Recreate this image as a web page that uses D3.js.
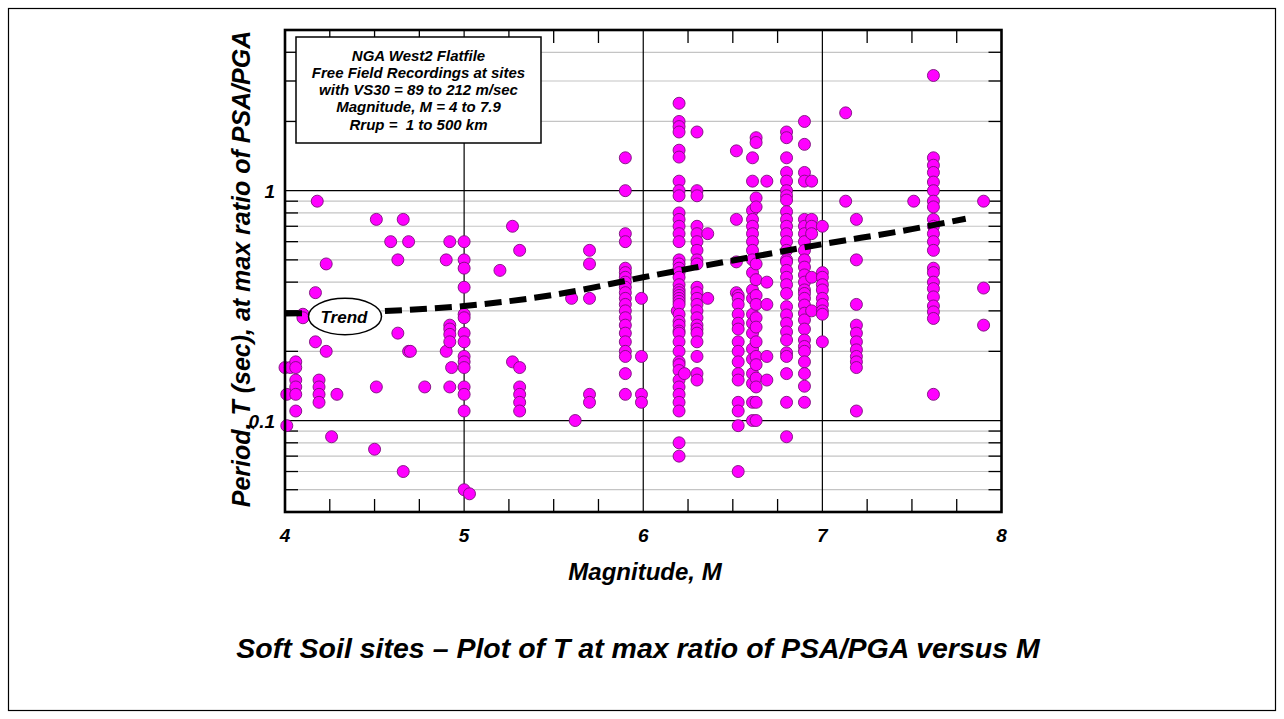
<!DOCTYPE html>
<html>
<head>
<meta charset="utf-8">
<script src="https://cdn.jsdelivr.net/npm/d3@7"></script>
<style>
  html, body { margin: 0; padding: 0; background: #fff; }
  svg { display: block; }
  text { font-family: "Liberation Sans", Arial, Helvetica, sans-serif; font-weight: bold; font-style: italic; fill: #000; white-space: pre; }
</style>
</head>
<body>
<svg id="chart" width="1284" height="719"></svg>
<script>
// Recordings grouped in vertical stacks: one magnitude, many periods (sec)
const stackMag = [
  4.00, 4.01, 4.03, 4.06, 4.10, 4.17, 4.18, 4.19, 4.23, 4.26, 4.29,
  4.50, 4.51, 4.59, 4.63, 4.66, 4.69, 4.70, 4.78, 4.90, 4.92, 4.93,
  5.00, 5.03, 5.20, 5.27, 5.31, 5.60, 5.62, 5.70, 5.90, 5.99,
  6.19, 6.20, 6.23, 6.30, 6.36, 6.52, 6.53, 6.61, 6.63, 6.69,
  6.80, 6.90, 6.94, 7.00, 7.13, 7.19, 7.51, 7.62, 7.90
];
const stackPeriods = [
  [0.17], [0.13, 0.095], [0.17], [0.18, 0.17, 0.15, 0.14, 0.13, 0.11], [0.29, 0.28],
  [0.36, 0.22], [0.9], [0.15, 0.14, 0.13, 0.12], [0.48, 0.2], [0.085], [0.13],
  [0.075], [0.75, 0.14], [0.6], [0.5, 0.24], [0.75, 0.06], [0.6, 0.2], [0.2], [0.14],
  [0.5, 0.2], [0.6, 0.26, 0.25, 0.237, 0.22, 0.14], [0.17],
  [0.6, 0.5, 0.46, 0.38, 0.29, 0.28, 0.24, 0.22, 0.19, 0.18, 0.17, 0.14, 0.13, 0.11, 0.05],
  [0.048], [0.45], [0.7, 0.18], [0.55, 0.17, 0.14, 0.13, 0.12, 0.11], [0.34], [0.1],
  [0.55, 0.48, 0.34, 0.13, 0.12],
  [1.39, 1.0, 0.65, 0.6, 0.46, 0.44, 0.42, 0.40, 0.38, 0.36, 0.34, 0.32, 0.30, 0.28, 0.26, 0.24, 0.22, 0.20, 0.19, 0.16, 0.13],
  [0.34, 0.19, 0.13, 0.12],
  [0.30],
  [2.4, 2.0, 1.9, 1.8, 1.5, 1.4, 1.1, 1.0, 0.95, 0.8, 0.75, 0.7, 0.65, 0.6, 0.5, 0.48, 0.46, 0.44, 0.42, 0.39, 0.37, 0.36, 0.35, 0.34, 0.33, 0.32, 0.29, 0.27, 0.26, 0.245, 0.24, 0.22, 0.2, 0.18, 0.175, 0.165, 0.15, 0.14, 0.13, 0.12, 0.11, 0.08, 0.07],
  [0.16],
  [1.8, 1.0, 0.95, 0.7, 0.65, 0.6, 0.55, 0.5, 0.48, 0.38, 0.36, 0.34, 0.32, 0.30, 0.28, 0.26, 0.25, 0.24, 0.22, 0.19, 0.16, 0.15],
  [0.65, 0.34],
  [1.49, 0.75, 0.49, 0.36],
  [0.35, 0.34, 0.32, 0.29, 0.265, 0.25, 0.22, 0.2, 0.18, 0.16, 0.15, 0.12, 0.11, 0.095, 0.06],
  [1.39, 1.10, 0.82, 0.75, 0.70, 0.65, 0.60, 0.55, 0.50, 0.44, 0.37, 0.34, 0.29, 0.265, 0.24, 0.205, 0.185, 0.16, 0.145, 0.12, 0.10],
  [1.70, 1.62, 0.93, 0.85, 0.48, 0.41, 0.35, 0.32, 0.28, 0.255, 0.22, 0.19, 0.175, 0.153, 0.14, 0.12, 0.10],
  [1.1, 0.4, 0.32, 0.19, 0.15],
  [1.80, 1.70, 1.39, 1.20, 1.10, 1.0, 0.95, 0.91, 0.81, 0.75, 0.70, 0.65, 0.60, 0.55, 0.50, 0.49, 0.45, 0.42, 0.39, 0.357, 0.313, 0.288, 0.265, 0.243, 0.224, 0.197, 0.19, 0.16, 0.12, 0.085],
  [2.0, 1.59, 1.20, 1.10, 0.75, 0.70, 0.65, 0.60, 0.55, 0.50, 0.465, 0.43, 0.40, 0.37, 0.357, 0.34, 0.318, 0.293, 0.274, 0.25, 0.224, 0.21, 0.20, 0.18, 0.16, 0.141, 0.12],
  [1.10, 0.75, 0.70, 0.65, 0.42, 0.30],
  [0.70, 0.44, 0.42, 0.39, 0.37, 0.34, 0.32, 0.30, 0.29, 0.22],
  [2.18, 0.9],
  [0.75, 0.5, 0.32, 0.26, 0.24, 0.22, 0.203, 0.19, 0.18, 0.17, 0.11],
  [0.9],
  [3.17, 1.39, 1.29, 1.20, 1.09, 1.0, 0.90, 0.85, 0.75, 0.70, 0.65, 0.60, 0.55, 0.46, 0.44, 0.40, 0.375, 0.345, 0.315, 0.297, 0.278, 0.13],
  [0.9, 0.377, 0.26]
];

// Trend curve of period against magnitude
const trendM = [4.0, 4.5, 5.0, 5.5, 6.0, 6.5, 7.0, 7.5, 7.8];
const trendT = [0.292, 0.298, 0.315, 0.352, 0.42, 0.497, 0.585, 0.68, 0.755];

// Axis ticks
const xMajorTicks = [4, 5, 6, 7, 8];
const xMinorTicks = [4.25, 4.5, 4.75, 5.25, 5.5, 5.75, 6.25, 6.5, 6.75, 7.25, 7.5, 7.75];
const yDecadeTicks = [0.1, 1];
const yDecadeLabels = ["0.1", "1"];
const yMinorTicks = [0.05, 0.06, 0.07, 0.08, 0.09, 0.2, 0.3, 0.4, 0.5, 0.6, 0.7, 0.8, 0.9, 2, 3, 4];

const infoLines = [
  "NGA West2 Flatfile",
  "Free Field Recordings at sites",
  "with VS30 = 89 to 212 m/sec",
  "Magnitude, M = 4 to 7.9",
  "Rrup =  1 to 500 km"
];
const xTitle = "Magnitude, M";
const yTitle = "Period, T (sec), at max ratio of PSA/PGA";
const caption = "Soft Soil sites \u2013 Plot of T at max ratio of PSA/PGA versus M";

const svg = d3.select("#chart");
const plot = { left: 285, right: 1001.5, top: 30, bottom: 512 };

const x = d3.scaleLinear().domain([4, 8]).range([plot.left, plot.right]);
const y = d3.scaleLog().domain([0.04, 5]).range([plot.bottom, plot.top]);

// outer frame
svg.append("rect").attr("x", 8.5).attr("y", 8.5).attr("width", 1267).attr("height", 702)
  .attr("fill", "none").attr("stroke", "#000").attr("stroke-width", 1.2);

const g = svg.append("g");

// horizontal grid: light lines at minor values, dark at decades
g.append("g").selectAll("line").data(yMinorTicks).join("line")
  .attr("x1", plot.left).attr("x2", plot.right)
  .attr("y1", d => y(d)).attr("y2", d => y(d))
  .attr("stroke", "#c4c4c4").attr("stroke-width", 1.2);
g.append("g").selectAll("line").data(yDecadeTicks).join("line")
  .attr("x1", plot.left).attr("x2", plot.right)
  .attr("y1", d => y(d)).attr("y2", d => y(d))
  .attr("stroke", "#000").attr("stroke-width", 1.2);
// vertical grid at interior whole magnitudes
g.append("g").selectAll("line").data(xMajorTicks.slice(1, -1)).join("line")
  .attr("x1", d => x(d)).attr("x2", d => x(d))
  .attr("y1", plot.top).attr("y2", plot.bottom)
  .attr("stroke", "#000").attr("stroke-width", 1.2);

// inward minor ticks on all four sides
const tickLen = 13;
const ticks = g.append("g").attr("stroke", "#000").attr("stroke-width", 1.3);
yMinorTicks.forEach(v => {
  ticks.append("line").attr("x1", plot.left).attr("x2", plot.left + tickLen).attr("y1", y(v)).attr("y2", y(v));
  ticks.append("line").attr("x1", plot.right - tickLen).attr("x2", plot.right).attr("y1", y(v)).attr("y2", y(v));
});
xMinorTicks.forEach(v => {
  ticks.append("line").attr("x1", x(v)).attr("x2", x(v)).attr("y1", plot.top).attr("y2", plot.top + tickLen);
  ticks.append("line").attr("x1", x(v)).attr("x2", x(v)).attr("y1", plot.bottom - tickLen).attr("y2", plot.bottom);
});

// data points
const points = [];
stackMag.forEach((m, i) => stackPeriods[i].forEach(t => points.push({ m, t })));
g.append("g").selectAll("circle").data(points).join("circle")
  .attr("cx", d => x(d.m)).attr("cy", d => y(d.t)).attr("r", 6)
  .attr("fill", "#ff00ff").attr("stroke", "#7a0f7a").attr("stroke-width", 0.9);

// trend line
const trend = trendM.map((m, i) => [m, trendT[i]]);
g.append("path").datum(trend)
  .attr("d", d3.line().x(d => x(d[0])).y(d => y(d[1])).curve(d3.curveMonotoneX))
  .attr("fill", "none").attr("stroke", "#000").attr("stroke-width", 6)
  .attr("stroke-dasharray", "17,8");

// trend label
g.append("ellipse").attr("cx", 345).attr("cy", 316.5).attr("rx", 36.5).attr("ry", 18.3)
  .attr("fill", "#fff").attr("stroke", "#000").attr("stroke-width", 1.5);
g.append("text").attr("x", 344).attr("y", 322.5).attr("text-anchor", "middle")
  .attr("font-size", 17).text("Trend");

// info box
g.append("rect").attr("x", 296).attr("y", 37).attr("width", 245).attr("height", 106)
  .attr("fill", "#fff").attr("stroke", "#000").attr("stroke-width", 1.5);
g.append("g").selectAll("text").data(infoLines).join("text")
  .attr("x", 418.5).attr("y", (d, i) => 60.5 + i * 17.3)
  .attr("text-anchor", "middle").attr("font-size", 15).text(d => d);

// plot border
g.append("rect").attr("x", plot.left).attr("y", plot.top)
  .attr("width", plot.right - plot.left).attr("height", plot.bottom - plot.top)
  .attr("fill", "none").attr("stroke", "#000").attr("stroke-width", 2.6);

// tick labels
svg.append("g").selectAll("text").data(xMajorTicks).join("text")
  .attr("x", d => x(d)).attr("y", 542)
  .attr("text-anchor", "middle").attr("font-size", 19).text(d => d);
svg.append("g").selectAll("text").data(yDecadeTicks).join("text")
  .attr("x", 275).attr("y", d => y(d) + 7)
  .attr("text-anchor", "end").attr("font-size", 19).text((d, i) => yDecadeLabels[i]);

// axis titles and caption
svg.append("text").attr("x", 645).attr("y", 580).attr("text-anchor", "middle")
  .attr("font-size", 24).text(xTitle);
svg.append("text").attr("transform", "translate(250,269) rotate(-90)")
  .attr("text-anchor", "middle").attr("font-size", 25).text(yTitle);
svg.append("text").attr("x", 638).attr("y", 658).attr("text-anchor", "middle")
  .attr("font-size", 28.5).text(caption);
</script>
</body>
</html>
